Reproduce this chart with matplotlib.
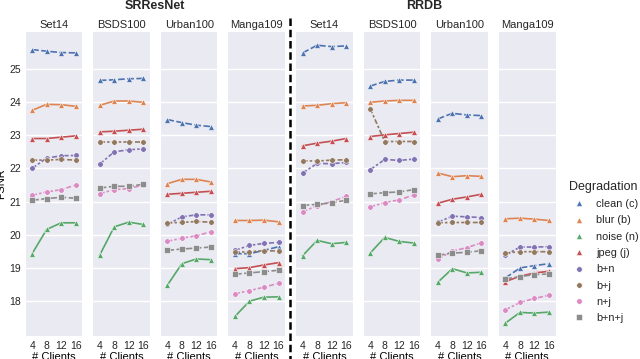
import matplotlib
matplotlib.use("Agg")
import matplotlib.pyplot as plt
from matplotlib.lines import Line2D

clients = [4, 8, 12, 16]
models = ["SRResNet", "RRDB"]
datasets = ["Set14", "BSDS100", "Urban100", "Manga109"]
degradations = ["clean (c)", "blur (b)", "noise (n)", "jpeg (j)",
                "b+n", "b+j", "n+j", "b+n+j"]

# PSNR per panel, rows in the order of `degradations`
srresnet_set14 = [
    [25.58, 25.53, 25.49, 25.48],
    [23.75, 23.93, 23.92, 23.87],
    [19.43, 20.16, 20.36, 20.36],
    [22.90, 22.90, 22.94, 22.98],
    [22.00, 22.31, 22.38, 22.39],
    [22.25, 22.25, 22.27, 22.25],
    [21.19, 21.29, 21.36, 21.50],
    [21.04, 21.09, 21.13, 21.10],
]
srresnet_bsds100 = [
    [24.65, 24.67, 24.70, 24.71],
    [23.90, 24.03, 24.03, 23.99],
    [19.39, 20.24, 20.38, 20.31],
    [23.10, 23.12, 23.15, 23.18],
    [22.13, 22.50, 22.56, 22.59],
    [22.80, 22.80, 22.80, 22.80],
    [21.24, 21.36, 21.39, 21.50],
    [21.41, 21.46, 21.46, 21.52],
]
srresnet_urban100 = [
    [23.47, 23.38, 23.30, 23.26],
    [21.54, 21.67, 21.67, 21.59],
    [18.48, 19.13, 19.27, 19.25],
    [21.22, 21.25, 21.28, 21.31],
    [20.31, 20.54, 20.60, 20.60],
    [20.36, 20.37, 20.40, 20.38],
    [19.80, 19.90, 19.97, 20.09],
    [19.53, 19.57, 19.60, 19.63],
]
srresnet_manga109 = [
    [19.43, 19.43, 19.53, 19.64],
    [20.43, 20.43, 20.44, 20.39],
    [17.54, 18.00, 18.12, 18.13],
    [18.98, 19.01, 19.09, 19.16],
    [19.53, 19.68, 19.74, 19.77],
    [19.47, 19.49, 19.52, 19.51],
    [18.22, 18.32, 18.42, 18.54],
    [18.81, 18.85, 18.89, 18.93],
]
rrdb_set14 = [
    [25.48, 25.71, 25.67, 25.69],
    [23.88, 23.90, 23.95, 23.98],
    [19.37, 19.83, 19.73, 19.77],
    [22.68, 22.76, 22.82, 22.90],
    [21.86, 22.15, 22.14, 22.18],
    [22.23, 22.22, 22.25, 22.26],
    [20.70, 20.87, 21.00, 21.16],
    [20.88, 20.92, 20.96, 21.04],
]
rrdb_bsds100 = [
    [24.48, 24.62, 24.66, 24.66],
    [23.99, 24.03, 24.05, 24.05],
    [19.45, 19.92, 19.80, 19.75],
    [22.96, 23.01, 23.05, 23.09],
    [21.96, 22.27, 22.24, 22.28],
    [23.80, 22.81, 22.81, 22.81],
    [20.84, 20.97, 21.05, 21.20],
    [21.23, 21.27, 21.29, 21.36],
]
rrdb_urban100 = [
    [23.49, 23.66, 23.61, 23.59],
    [21.86, 21.75, 21.78, 21.76],
    [18.57, 18.98, 18.85, 18.87],
    [20.95, 21.07, 21.14, 21.22],
    [20.38, 20.56, 20.54, 20.52],
    [20.36, 20.37, 20.37, 20.37],
    [19.27, 19.51, 19.61, 19.76],
    [19.38, 19.45, 19.47, 19.52],
]
rrdb_manga109 = [
    [18.70, 19.00, 19.07, 19.13],
    [20.48, 20.50, 20.47, 20.43],
    [17.34, 17.66, 17.64, 17.67],
    [18.59, 18.75, 18.85, 18.90],
    [19.39, 19.63, 19.63, 19.64],
    [19.45, 19.49, 19.49, 19.49],
    [17.74, 17.96, 18.08, 18.18],
    [18.67, 18.74, 18.80, 18.82],
]
panels = [srresnet_set14, srresnet_bsds100, srresnet_urban100, srresnet_manga109,
          rrdb_set14, rrdb_bsds100, rrdb_urban100, rrdb_manga109]

colors = ["#4C72B0", "#DD8452", "#55A868", "#C44E52",
          "#8172B3", "#937860", "#DA8BC3", "#8C8C8C"]
markers = ["^", "^", "^", "^", "o", "o", "o", "s"]
styles = [(0, (4, 1.5)), "-", "-", "-",
          (0, (3, 1.25, 1.5, 1.25)), (0, (3, 1.25, 1.5, 1.25)),
          (0, (3, 1.25, 1.5, 1.25)), (0, (4, 1.5))]

plt.rcParams["font.family"] = ["Liberation Sans", "DejaVu Sans"]
plt.rcParams["text.color"] = "#262626"

fig, axes = plt.subplots(1, 8, figsize=(6.4, 3.59), dpi=100, sharey=True)
fig.subplots_adjust(left=0.040, right=0.868, top=0.910, bottom=0.065, wspace=0.195)

for i, ax in enumerate(axes):
    data = panels[i]
    for k in range(len(degradations)):
        ax.plot(clients, data[k], color=colors[k], marker=markers[k],
                linestyle=styles[k], lw=1.2, ms=4, mec="white", mew=0.4)
    ax.set_facecolor("#EAEAF2")
    for s in ax.spines.values():
        s.set_visible(False)
    ax.grid(axis="y", color="white", lw=1)
    ax.set_axisbelow(True)
    ax.set_xlim(2.2, 17.8)
    ax.set_ylim(16.96, 26.1)
    ax.set_xticks(clients)
    ax.set_yticks([18, 19, 20, 21, 22, 23, 24, 25])
    ax.tick_params(length=0, labelsize=7.5, colors="#262626", pad=3.5)
    ax.set_title(datasets[i % 4], fontsize=8, pad=3)
    ax.set_xlabel("# Clients", fontsize=8, labelpad=1)

axes[0].set_ylabel("PSNR", fontsize=8, labelpad=2)

fig.text(155 / 640, 1 - 6 / 359, models[0], ha="center", va="center",
         fontsize=9, fontweight="bold")
fig.text(424 / 640, 1 - 6 / 359, models[1], ha="center", va="center",
         fontsize=9, fontweight="bold")

fig.add_artist(Line2D([290 / 640, 290 / 640], [1 - 18 / 359, 0],
                      transform=fig.transFigure, color="black", lw=1.8,
                      linestyle=(0, (3, 1.5))))

handles = [Line2D([], [], color=colors[k], marker=markers[k], linestyle="none",
                  ms=4, mec="white", mew=0.4) for k in range(len(degradations))]
fig.legend(handles, degradations, title="Degradation", loc="center left",
           bbox_to_anchor=(0.872, 0.298), frameon=False, fontsize=7.8,
           title_fontsize=9, handletextpad=0.6, labelspacing=0.58)

fig.savefig("out.png", dpi=100)
